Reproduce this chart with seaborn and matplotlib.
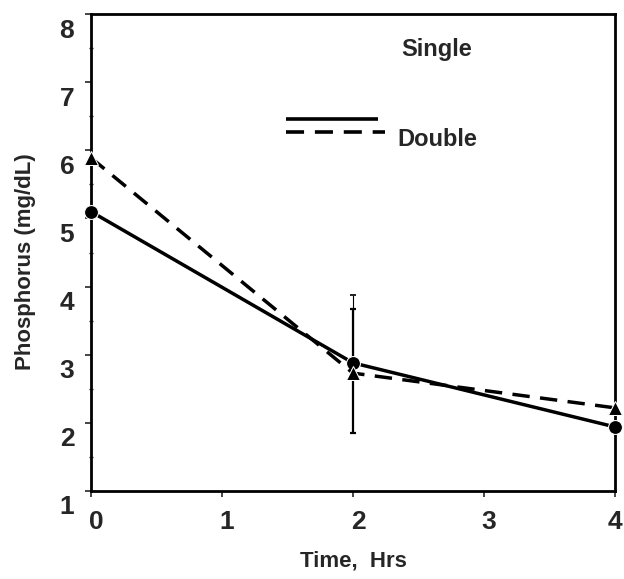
import numpy as np
import pandas as pd
import seaborn as sns
import matplotlib.pyplot as plt
from matplotlib.transforms import ScaledTranslation

# values
hours = [0, 2, 4]
single = [5.1, 2.88, 1.94]
double = [5.89, 2.73, 2.22]
single_err_up = [0, 1.0, 0]
double_err_lo = [0, 0.88, 0]
double_err_up = [0, 0.94, 0]

df = pd.DataFrame({
    'Time': hours * 2,
    'Phosphorus': single + double,
    'Group': ['Single'] * 3 + ['Double'] * 3,
})

sns.set_style('ticks')
plt.rcParams['font.family'] = ['Liberation Sans', 'DejaVu Sans']
plt.rcParams['font.weight'] = 'bold'

fig = plt.figure(figsize=(6.24, 5.79), dpi=100)
ax = fig.add_axes([0.1458, 0.152, 0.8398, 0.8238])

dash = (5.0, 3.0)
sns.lineplot(data=df, x='Time', y='Phosphorus', style='Group',
             markers={'Single': 'o', 'Double': '^'},
             dashes={'Single': '', 'Double': dash},
             color='black', linewidth=2.5, markersize=10,
             legend=False, ax=ax, zorder=3)
for ln in ax.lines:
    ln.set_clip_on(False)

ax.errorbar(hours, double, yerr=[double_err_lo, double_err_up], fmt='none',
            ecolor='black', elinewidth=1.6, capsize=2, capthick=1.6, zorder=2)
ax.errorbar(hours, single, yerr=[[0, 0, 0], single_err_up], fmt='none',
            ecolor='black', elinewidth=0.8, capsize=2, capthick=1.2, zorder=2)

ax.set_xlim(0, 4)
ax.set_ylim(1, 8)
ax.set_xticks([0, 1, 2, 3, 4])
ax.set_yticks([1, 2, 3, 4, 5, 6, 7, 8])
ax.set_yticks(np.arange(1.5, 8, 1), minor=True)

for s in ax.spines.values():
    s.set_linewidth(2)
    s.set_color('black')

ax.tick_params(axis='both', which='major', labelsize=19, length=4, width=1.2)
ax.tick_params(axis='y', which='minor', length=3, width=1, direction='inout')
ax.tick_params(axis='x', which='major', pad=10)
ax.tick_params(axis='y', which='major', pad=8)

for lab in ax.get_yticklabels():
    lab.set_transform(lab.get_transform() + ScaledTranslation(0, -0.14, fig.dpi_scale_trans))
for lab in ax.get_xticklabels()[:-1]:
    lab.set_transform(lab.get_transform() + ScaledTranslation(0.05, 0, fig.dpi_scale_trans))

ax.set_xlabel('Time,  Hrs', fontsize=16, fontweight='bold')
ax.set_ylabel('Phosphorus (mg/dL)', fontsize=16, fontweight='bold')
ax.xaxis.set_label_coords(0.5, -0.125)
ax.yaxis.set_label_coords(-0.105, 0.48)

# legend, drawn as in the original figure
ax.plot([0.372, 0.548], [0.780, 0.780], transform=ax.transAxes,
        color='black', lw=2.6, solid_capstyle='butt')
ax.plot([0.372, 0.561], [0.753, 0.753], transform=ax.transAxes,
        color='black', lw=2.6, dashes=dash)
ax.text(0.660, 0.925, 'Single', transform=ax.transAxes, ha='center',
        va='center', fontsize=17, fontweight='bold')
ax.text(0.584, 0.736, 'Double', transform=ax.transAxes, ha='left',
        va='center', fontsize=17, fontweight='bold')

fig.savefig('out.png', dpi=100)
